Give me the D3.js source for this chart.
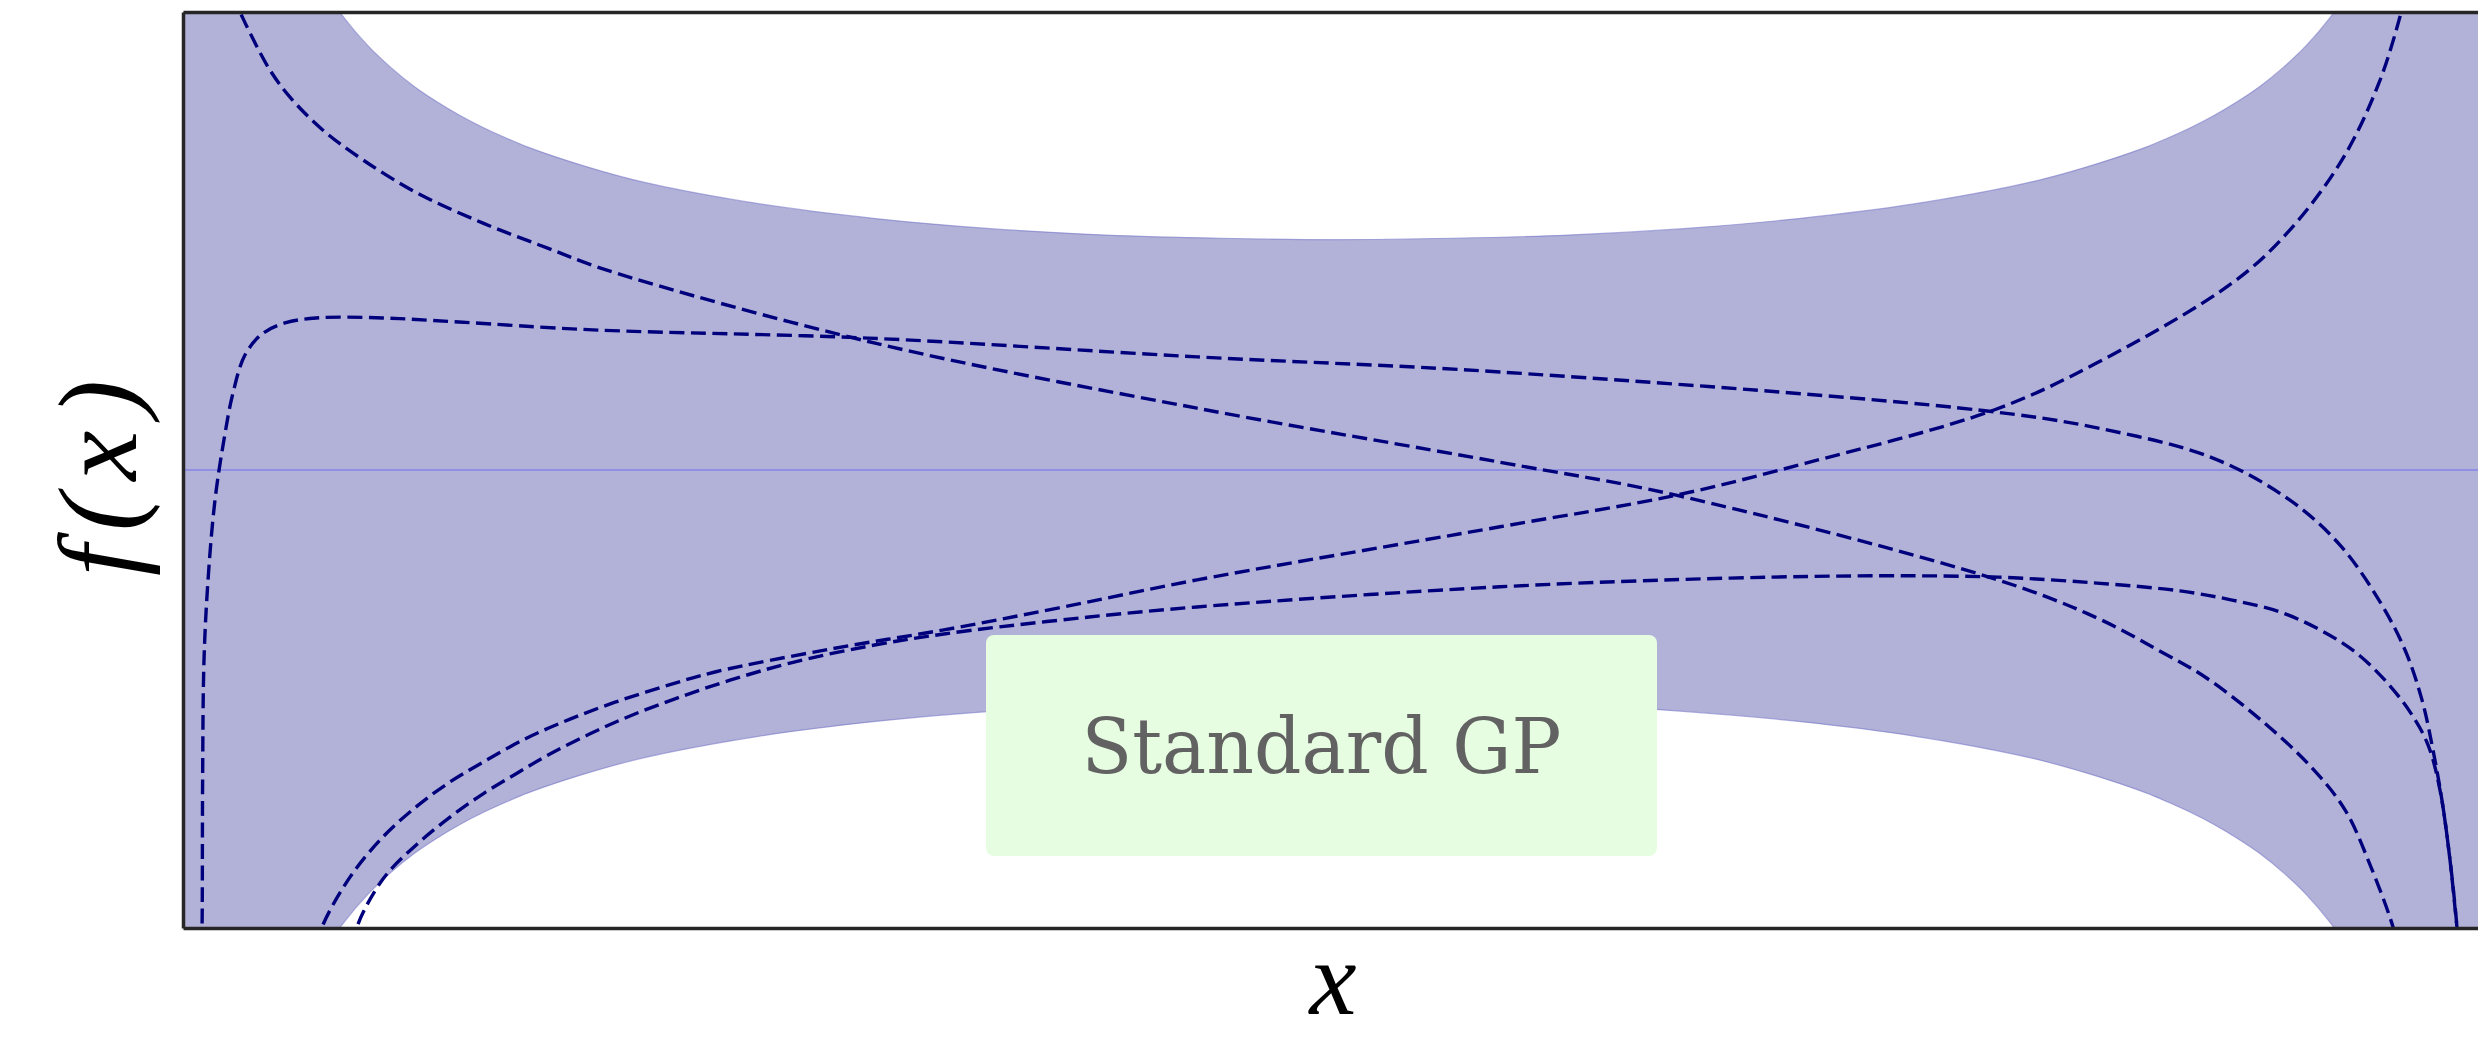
<!DOCTYPE html>
<html>
<head>
<meta charset="utf-8">
<script src="https://cdn.jsdelivr.net/npm/d3@7"></script>
<style>
  html, body { margin: 0; padding: 0; background: #ffffff; }
  svg { display: block; }
</style>
</head>
<body>
<svg id="chart" width="2478" height="1037"></svg>
<script>
// Predictive band of the GP prior: input grid, mean and one standard deviation.
const bandX    = [-1.0, -0.95, -0.92, -0.9, -0.88, -0.86, -0.84, -0.82, -0.8, -0.78, -0.76, -0.74, -0.72, -0.7, -0.65, -0.6,
                  -0.5, -0.4, -0.3, -0.2, -0.1, 0, 0.1, 0.2, 0.3, 0.4, 0.5,
                  0.6, 0.65, 0.7, 0.72, 0.74, 0.76, 0.78, 0.8, 0.82, 0.84, 0.86, 0.88, 0.9, 0.92, 0.95, 1.0];
const bandMean = bandX.map(() => 0);
const bandStd  = [2.2, 1.61, 1.28, 1.154, 1.059, 0.986, 0.927, 0.879, 0.838, 0.804, 0.774, 0.748, 0.725, 0.704, 0.662, 0.628,
                  0.581, 0.549, 0.527, 0.513, 0.506, 0.503, 0.506, 0.513, 0.527, 0.549, 0.581,
                  0.628, 0.662, 0.704, 0.725, 0.748, 0.774, 0.804, 0.838, 0.879, 0.927, 0.986, 1.059, 1.154, 1.28, 1.61, 2.2];

// Four sample paths drawn from the prior.
const sample1X = [-0.9575, -0.9506, -0.9419, -0.9246, -0.9073, -0.8787, -0.8440, -0.7972, -0.7400, -0.6846, -0.6334,
                  -0.4003, -0.1213, 0.1412, 0.2938, 0.5728, 0.6586, 0.7114, 0.7522, 0.8007, 0.8440, 0.8735, 0.8960, 0.9151, 0.9185];
const sample1Y = [1.037, 1.000, 0.954, 0.873, 0.814, 0.742, 0.677, 0.605, 0.539, 0.485, 0.437,
                  0.277, 0.135, 0.017, -0.055, -0.240, -0.323, -0.393, -0.452, -0.546, -0.648, -0.742, -0.867, -0.998, -1.037];

const sample2X = [-0.9840, -0.9835, -0.9830, -0.9818, -0.9783, -0.9723, -0.9645, -0.9567, -0.9463, -0.9315, -0.9116, -0.8847,
                  -0.8267, -0.7608, -0.6447, -0.4064, -0.1213, 0.1412, 0.5555, 0.6586, 0.7591, 0.8258, 0.8692, 0.9029,
                  0.9255, 0.9402, 0.9497, 0.9575, 0.9645, 0.9705, 0.9723];
const sample2Y = [-1.037, -1.000, -0.677, -0.415, -0.240, -0.066, 0.066, 0.168, 0.251, 0.297, 0.321, 0.332,
                  0.332, 0.323, 0.306, 0.288, 0.247, 0.214, 0.131, 0.092, 0.026, -0.066, -0.164, -0.284,
                  -0.393, -0.502, -0.611, -0.721, -0.852, -0.998, -1.037];

const sample3X = [-0.8830, -0.8795, -0.8553, -0.8267, -0.7972, -0.7686, -0.7400, -0.7019, -0.6646, -0.6256, -0.5823,
                  -0.5390, -0.4393, -0.3406, -0.2409, -0.1213, 0.1412, 0.2938, 0.4064, 0.5693, 0.6586, 0.7756,
                  0.8232, 0.8709, 0.9029, 0.9220, 0.9255];
const sample3Y = [-1.037, -0.998, -0.889, -0.801, -0.734, -0.681, -0.638, -0.585, -0.544, -0.507, -0.472,
                  -0.441, -0.391, -0.349, -0.301, -0.240, -0.124, -0.055, 0.015, 0.131, 0.234, 0.408,
                  0.517, 0.677, 0.845, 0.998, 1.037];

const sample4X = [-0.8510, -0.8492, -0.8267, -0.7972, -0.7686, -0.7400, -0.7106, -0.6820, -0.6473, -0.6126, -0.5719,
                  -0.5260, -0.4731, -0.4047, -0.3406, -0.2409, -0.1213, 0.1412, 0.3406, 0.4731, 0.5728, 0.6586, 0.7305,
                  0.7756, 0.8172, 0.8518, 0.8821, 0.9081, 0.9298, 0.9454, 0.9558, 0.9645, 0.9705, 0.9714];
const sample4Y = [-1.037, -0.998, -0.893, -0.817, -0.758, -0.707, -0.662, -0.620, -0.576, -0.537, -0.498,
                  -0.459, -0.421, -0.384, -0.358, -0.328, -0.299, -0.255, -0.236, -0.231, -0.234, -0.247, -0.264,
                  -0.284, -0.310, -0.349, -0.397, -0.459, -0.528, -0.600, -0.699, -0.852, -0.998, -1.037];

const samplesX = [sample1X, sample2X, sample3X, sample4X];
const samplesY = [sample1Y, sample2Y, sample3Y, sample4Y];

const xLabel = "x";
const yLabel = "f(x)";
const boxLabel = "Standard GP";

// Layout
const svg = d3.select("#chart");
const plot = { left: 183, top: 12, right: 2491, bottom: 928 };

const x = d3.scaleLinear().domain([-1, 1]).range([plot.left, plot.right]);
const y = d3.scaleLinear().domain([-1, 1]).range([plot.bottom, plot.top]);

svg.append("defs").append("clipPath").attr("id", "plot-clip")
  .append("rect")
  .attr("x", plot.left).attr("y", plot.top)
  .attr("width", plot.right - plot.left).attr("height", plot.bottom - plot.top);

const g = svg.append("g").attr("clip-path", "url(#plot-clip)");

// Mean ± one standard deviation
const band = bandX.map((v, i) => ({ x: v, lo: bandMean[i] - bandStd[i], hi: bandMean[i] + bandStd[i], m: bandMean[i] }));

g.append("path")
  .datum(band)
  .attr("fill", "#000080")
  .attr("fill-opacity", 0.3)
  .attr("stroke", "#6f6fc4")
  .attr("stroke-opacity", 0.55)
  .attr("stroke-width", 1.2)
  .attr("d", d3.area()
    .x(d => x(d.x))
    .y0(d => y(d.lo))
    .y1(d => y(d.hi))
    .curve(d3.curveCatmullRom.alpha(0.5)));

// Prior mean
g.append("path")
  .datum(band)
  .attr("fill", "none")
  .attr("stroke", "#8383e6")
  .attr("stroke-width", 1.5)
  .attr("d", d3.line().x(d => x(d.x)).y(d => y(d.m)));

// Sample paths
const sampleLine = d3.line()
  .x(d => x(d[0]))
  .y(d => y(d[1]))
  .curve(d3.curveCatmullRom.alpha(0.5));

g.selectAll("path.sample")
  .data(samplesX.map((xs, k) => xs.map((v, i) => [v, samplesY[k][i]])))
  .join("path")
  .attr("class", "sample")
  .attr("fill", "none")
  .attr("stroke", "#00007c")
  .attr("stroke-width", 3.4)
  .attr("stroke-dasharray", "15,6.5")
  .attr("d", sampleLine);

// Frame (axes without ticks)
const spine = s => s.select(".domain").attr("stroke", "#262626").attr("stroke-width", 3.5);

svg.append("g")
  .attr("transform", `translate(0,${plot.bottom})`)
  .call(d3.axisBottom(x).tickValues([]).tickSizeOuter(0))
  .call(spine);

svg.append("g")
  .attr("transform", `translate(0,${plot.top})`)
  .call(d3.axisTop(x).tickValues([]).tickSizeOuter(0))
  .call(spine);

svg.append("g")
  .attr("transform", `translate(${plot.left},0)`)
  .call(d3.axisLeft(y).tickValues([]).tickSizeOuter(0))
  .call(spine);

// Axis titles
svg.append("text")
  .attr("x", 1333)
  .attr("y", 1014)
  .attr("text-anchor", "middle")
  .attr("font-family", "'Liberation Serif', 'DejaVu Serif', serif")
  .attr("font-style", "italic")
  .attr("font-size", 106)
  .attr("fill", "#000")
  .text(xLabel);

svg.append("text")
  .attr("transform", `translate(136,${(plot.top + plot.bottom) / 2 + 8}) rotate(-90)`)
  .attr("text-anchor", "middle")
  .attr("font-family", "'Liberation Serif', 'DejaVu Serif', serif")
  .attr("font-style", "italic")
  .attr("font-size", 112)
  .attr("fill", "#000")
  .attr("textLength", 196)
  .attr("lengthAdjust", "spacing")
  .text(yLabel);

// Model label
const box = { x: 986, y: 635, w: 671, h: 221 };
svg.append("rect")
  .attr("x", box.x).attr("y", box.y)
  .attr("width", box.w).attr("height", box.h)
  .attr("rx", 8).attr("ry", 8)
  .attr("fill", "#e6fde1");

svg.append("text")
  .attr("x", box.x + box.w / 2)
  .attr("y", 773)
  .attr("text-anchor", "middle")
  .attr("font-family", "'DejaVu Serif', 'Liberation Serif', serif")
  .attr("font-size", 76)
  .attr("fill", "#626262")
  .attr("textLength", 480)
  .attr("lengthAdjust", "spacingAndGlyphs")
  .text(boxLabel);
</script>
</body>
</html>
